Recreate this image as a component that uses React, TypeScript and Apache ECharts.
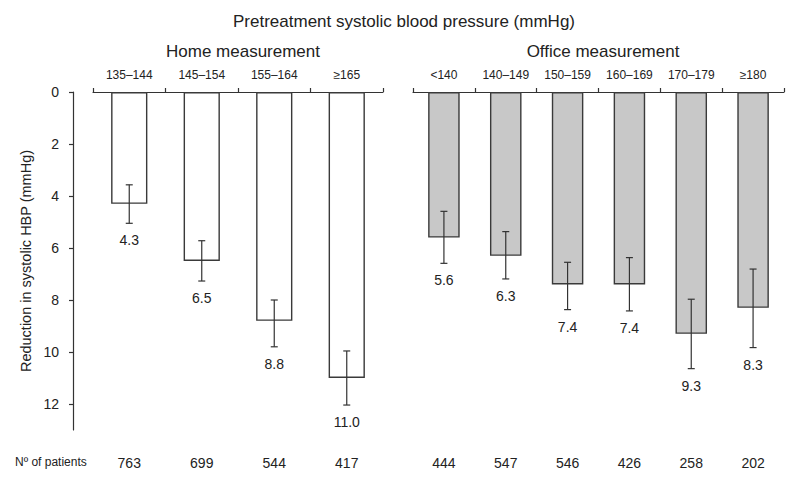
import React, { useEffect, useRef } from "react";
import * as echarts from "echarts";

const homeCategories = ["135–144", "145–154", "155–164", "≥165"];
const homeValues = [4.3, 6.5, 8.8, 11.0];
const homeLow = [3.57, 5.72, 8.0, 9.96];
const homeHigh = [5.05, 7.27, 9.8, 12.04];
const homePatients = ["763", "699", "544", "417"];

const officeCategories = ["<140", "140–149", "150–159", "160–169", "170–179", "≥180"];
const officeValues = [5.6, 6.3, 7.4, 7.4, 9.3, 8.3];
const officeLow = [4.59, 5.37, 6.55, 6.37, 7.97, 6.81];
const officeHigh = [6.59, 7.19, 8.37, 8.42, 10.64, 9.83];
const officePatients = ["444", "547", "546", "426", "258", "202"];

const yTicks = [0, 2, 4, 6, 8, 10, 12];

const TEXT = "#222";
const LINE = "#333";
const FONT = "Liberation Sans, Arial, sans-serif";

function errorRender(values: number[]) {
  return (params: any, api: any) => {
    const i = api.value(0);
    const lo = api.coord([i, api.value(1)]);
    const hi = api.coord([i, api.value(2)]);
    const x = lo[0];
    const cap = 3.5;
    return {
      type: "group",
      children: [
        { type: "line", shape: { x1: x, y1: lo[1], x2: x, y2: hi[1] }, style: { stroke: LINE, lineWidth: 1.2 } },
        { type: "line", shape: { x1: x - cap, y1: lo[1], x2: x + cap, y2: lo[1] }, style: { stroke: LINE, lineWidth: 1.2 } },
        { type: "line", shape: { x1: x - cap, y1: hi[1], x2: x + cap, y2: hi[1] }, style: { stroke: LINE, lineWidth: 1.2 } },
        {
          type: "text",
          x: x,
          y: hi[1] + 17,
          style: {
            text: values[params.dataIndex].toFixed(1),
            fill: TEXT,
            font: `14px ${FONT}`,
            textAlign: "center",
            textVerticalAlign: "middle",
          },
        },
      ],
    };
  };
}

export default function App() {
  const ref = useRef<HTMLDivElement>(null);
  useEffect(() => {
    document.body.style.margin = "0";
    const chart = echarts.init(ref.current!, undefined, { renderer: "svg" });
    const yCommon = {
      type: "value",
      inverse: true,
      min: 0,
      max: 13,
      interval: 1,
      splitLine: { show: false },
    };
    const catAxisTop = (gi: number, cats: string[]) => ({
      type: "category",
      gridIndex: gi,
      position: "top",
      data: cats,
      axisLine: { show: true, lineStyle: { color: LINE, width: 1.2 } },
      axisTick: { show: true, length: 4, lineStyle: { color: LINE, width: 1.2 } },
      axisLabel: { color: TEXT, fontSize: 12, fontFamily: FONT, margin: 11 },
    });
    const catAxisBottom = (gi: number, cats: string[]) => ({
      type: "category",
      gridIndex: gi,
      position: "bottom",
      data: cats,
      axisLine: { show: false },
      axisTick: { show: false },
      axisLabel: { color: TEXT, fontSize: 14, fontFamily: FONT, margin: 26 },
    });
    const titleStyle = { color: TEXT, fontSize: 17, fontWeight: "normal", fontFamily: FONT };
    chart.setOption({
      animation: false,
      title: [
        {
          text: "Pretreatment systolic blood pressure (mmHg)",
          left: 399,
          top: 8,
          textAlign: "center",
          textStyle: titleStyle,
        },
        {
          text: "Home measurement",
          left: 238,
          top: 38,
          textAlign: "center",
          textStyle: titleStyle,
        },
        {
          text: "Office measurement",
          left: 598,
          top: 38,
          textAlign: "center",
          textStyle: titleStyle,
        },
      ],
      grid: [
        { left: 93, top: 92, width: 290, height: 338 },
        { left: 413, top: 92, width: 371, height: 338 },
      ],
      xAxis: [
        catAxisTop(0, homeCategories),
        catAxisTop(1, officeCategories),
        catAxisBottom(0, homePatients),
        catAxisBottom(1, officePatients),
      ],
      yAxis: [
        {
          ...yCommon,
          gridIndex: 0,
          offset: 20,
          name: "Reduction in systolic HBP (mmHg)",
          nameLocation: "middle",
          nameGap: 40,
          nameTextStyle: { color: TEXT, fontSize: 14.5, fontFamily: FONT },
          axisLine: { show: true, lineStyle: { color: LINE, width: 1.2 } },
          axisTick: { show: true, length: 4, customValues: yTicks, lineStyle: { color: LINE, width: 1.2 } },
          axisLabel: { customValues: yTicks, color: TEXT, fontSize: 14, fontFamily: FONT, margin: 14 },
        },
        {
          ...yCommon,
          gridIndex: 1,
          show: false,
        },
      ],
      series: [
        {
          type: "bar",
          xAxisIndex: 0,
          yAxisIndex: 0,
          data: homeValues,
          barWidth: "50%",
          itemStyle: { color: "#ffffff", borderColor: "#3a3a3a", borderWidth: 1.4 },
        },
        {
          type: "bar",
          xAxisIndex: 1,
          yAxisIndex: 1,
          data: officeValues,
          barWidth: "51%",
          itemStyle: { color: "#c8c8c8", borderColor: "#3a3a3a", borderWidth: 1.4 },
        },
        {
          type: "custom",
          xAxisIndex: 0,
          yAxisIndex: 0,
          renderItem: errorRender(homeValues),
          data: homeValues.map((v, i) => [i, homeLow[i], homeHigh[i], v]),
          z: 5,
        },
        {
          type: "custom",
          xAxisIndex: 1,
          yAxisIndex: 1,
          renderItem: errorRender(officeValues),
          data: officeValues.map((v, i) => [i, officeLow[i], officeHigh[i], v]),
          z: 5,
        },
      ],
      graphic: [
        {
          type: "text",
          left: 15,
          top: 456,
          style: { text: "Nº of patients", fill: TEXT, font: `12px ${FONT}` },
        },
      ],
    });
    return () => chart.dispose();
  }, []);
  return <div ref={ref} style={{ width: 799, height: 488 }} />;
}
